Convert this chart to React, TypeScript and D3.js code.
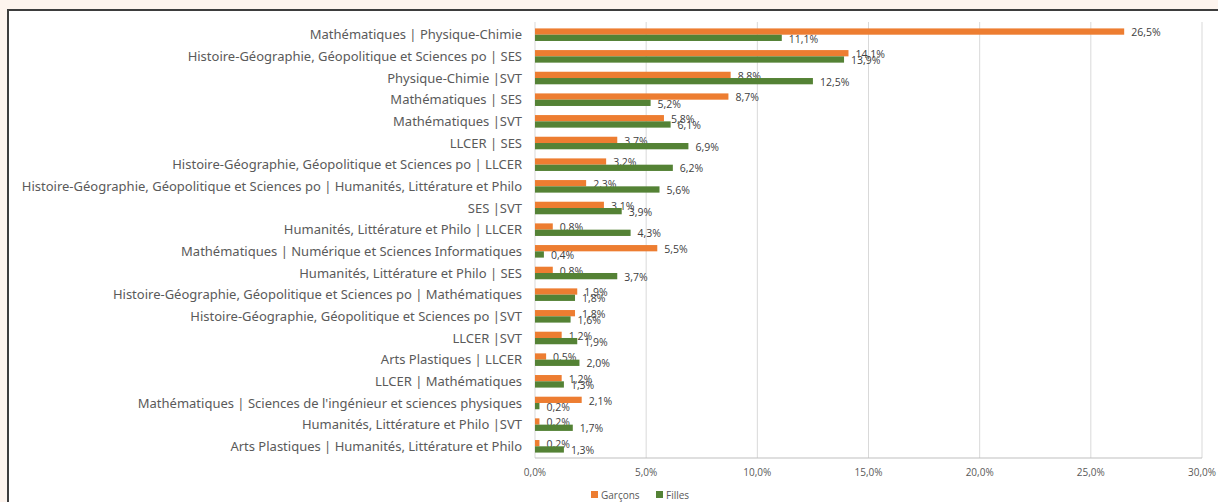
import React, {useEffect, useRef} from "react";
import * as d3 from 'd3';

const categories: string[] = [
    "Mathématiques | Physique-Chimie",
    "Histoire-Géographie, Géopolitique et Sciences po | SES",
    "Physique-Chimie |SVT",
    "Mathématiques | SES",
    "Mathématiques |SVT",
    "LLCER | SES",
    "Histoire-Géographie, Géopolitique et Sciences po | LLCER",
    "Histoire-Géographie, Géopolitique et Sciences po | Humanités, Littérature et Philo",
    "SES |SVT",
    "Humanités, Littérature et Philo | LLCER",
    "Mathématiques | Numérique et Sciences Informatiques",
    "Humanités, Littérature et Philo | SES",
    "Histoire-Géographie, Géopolitique et Sciences po | Mathématiques",
    "Histoire-Géographie, Géopolitique et Sciences po |SVT",
    "LLCER |SVT",
    "Arts Plastiques | LLCER",
    "LLCER | Mathématiques",
    "Mathématiques | Sciences de l'ingénieur et sciences physiques",
    "Humanités, Littérature et Philo |SVT",
    "Arts Plastiques | Humanités, Littérature et Philo",
];

const garcons: number[] = [26.5, 14.1, 8.8, 8.7, 5.8, 3.7, 3.2, 2.3, 3.1, 0.8, 5.5, 0.8, 1.9, 1.8, 1.2, 0.5, 1.2, 2.1, 0.2, 0.2];
const filles: number[] = [11.1, 13.9, 12.5, 5.2, 6.1, 6.9, 6.2, 5.6, 3.9, 4.3, 0.4, 3.7, 1.8, 1.6, 1.9, 2.0, 1.3, 0.2, 1.7, 1.3];

const seriesNames: string[] = ["Garçons", "Filles"];
const xTicks: number[] = [0, 5, 10, 15, 20, 25, 30];

const colors = ["#ED7D31", "#548235"];
const fmt = (v: number) => v.toFixed(1).replace(".", ",") + "%";

const App: React.FC = () => {
    const svgRef = useRef<SVGSVGElement | null>(null);

    useEffect(() => {
        if (!svgRef.current) return;
        const W = 1218, H = 502;
        const root = d3.select(svgRef.current);
        root.selectAll("*").remove();
        root.attr("width", W).attr("height", H);

        // page background + framed chart area
        root.append("rect").attr("width", W).attr("height", H).attr("fill", "#fdf4ee");
        root.append("rect")
            .attr("x", 8).attr("y", 10).attr("width", W + 10).attr("height", H + 10)
            .attr("fill", "#fff").attr("stroke", "#3d3d3d").attr("stroke-width", 2);

        const left = 535, right = 1202, top = 23, bottom = 458;

        const x = d3.scaleLinear().domain([0, 30]).range([left, right]);
        const y = d3.scaleBand<string>().domain(categories).range([top, bottom]).paddingInner(0.42).paddingOuter(0.25);
        const sub = d3.scaleBand<string>().domain(seriesNames).range([0, y.bandwidth()]);

        // gridlines
        root.append("g").selectAll("line")
            .data(xTicks.slice(1))
            .enter().append("line")
            .attr("x1", d => x(d)).attr("x2", d => x(d))
            .attr("y1", top - 1).attr("y2", bottom)
            .attr("stroke", "#d9d9d9").attr("stroke-width", 1);
        root.append("line")
            .attr("x1", left).attr("x2", left).attr("y1", top - 1).attr("y2", bottom)
            .attr("stroke", "#d9d9d9");
        root.append("line")
            .attr("x1", left).attr("x2", right).attr("y1", bottom).attr("y2", bottom)
            .attr("stroke", "#bfbfbf");

        // tick labels
        root.append("g").selectAll("text")
            .data(xTicks)
            .enter().append("text")
            .attr("x", d => x(d))
            .attr("y", bottom + 18)
            .attr("text-anchor", "middle")
            .style("font-family", "'Open Sans', sans-serif")
            .style("font-size", "10px")
            .attr("fill", "#595959")
            .text(d => fmt(d));

        // category labels
        root.append("g").selectAll("text")
            .data(categories)
            .enter().append("text")
            .attr("x", left - 13)
            .attr("y", d => y(d)! + y.bandwidth() / 2)
            .attr("dy", "0.35em")
            .attr("text-anchor", "end")
            .style("font-family", "'Noto Sans', sans-serif")
            .style("font-size", "13px")
            .attr("fill", "#5a5a5a")
            .text(d => d);

        const series = [garcons, filles];
        series.forEach((vals, si) => {
            const g = root.append("g");
            g.selectAll("rect")
                .data(vals)
                .enter().append("rect")
                .attr("x", left)
                .attr("y", (d, i) => y(categories[i])! + sub(seriesNames[si])!)
                .attr("width", d => x(d) - left)
                .attr("height", sub.bandwidth())
                .attr("fill", colors[si]);
            g.selectAll("text")
                .data(vals)
                .enter().append("text")
                .attr("x", d => x(d) + 7)
                .attr("y", (d, i) => y(categories[i])! + sub(seriesNames[si])! + sub.bandwidth() / 2 + 1)
                .attr("dy", "0.35em")
                .style("font-family", "'Open Sans', sans-serif")
                .style("font-size", "10.5px")
                .attr("fill", "#404040")
                .text(d => fmt(d));
        });

        // legend
        const legend = root.append("g");
        const legendX = [591, 656];
        seriesNames.forEach((name, i) => {
            legend.append("rect")
                .attr("x", legendX[i]).attr("y", 491)
                .attr("width", 7).attr("height", 7)
                .attr("fill", colors[i]);
            legend.append("text")
                .attr("x", legendX[i] + 10).attr("y", 495)
                .attr("dy", "0.35em")
                .style("font-family", "'Open Sans', sans-serif")
                .style("font-size", "10px")
                .attr("fill", "#595959")
                .text(name);
        });
    }, []);

    return (
        <div style={{position: "absolute", left: 0, top: 0}}>
            <svg ref={svgRef} style={{display: "block"}}></svg>
        </div>
    );
};

export default App;
